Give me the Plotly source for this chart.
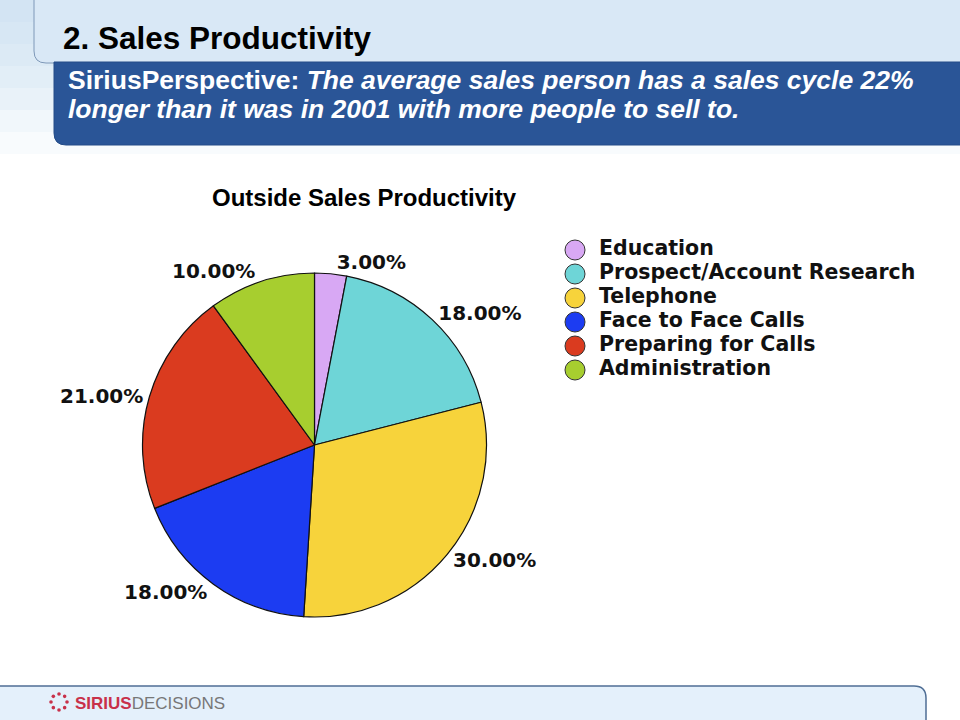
import math
import plotly.graph_objects as go

# ---- data ----
categories = ["Education", "Prospect/Account Research", "Telephone",
              "Face to Face Calls", "Preparing for Calls", "Administration"]
shares = [3, 18, 30, 18, 21, 10]
colors = ["#D8A8F4", "#6ED5D7", "#F7D33B", "#1C3CF2", "#DA3B1F", "#A7CE2F"]

header_title = "2. Sales Productivity"
header_sub_bold = "SiriusPerspective: "
header_sub_line1 = "The average sales person has a sales cycle 22%"
header_sub_line2 = "longer than it was in 2001 with more people to sell to."
chart_title = "Outside Sales Productivity"

W, H = 960, 720


def px(x):
    return x / W


def py(y):
    return 1 - y / H


def rounded_path(x0, y0, x1, y1, r, corners):
    rx, ry = r / W, r / H
    X0, X1 = px(x0), px(x1)
    Ytop, Ybot = py(y0), py(y1)
    p = []
    if "tl" in corners:
        p.append(f"M{X0},{Ytop - ry} Q{X0},{Ytop} {X0 + rx},{Ytop}")
    else:
        p.append(f"M{X0},{Ytop}")
    if "tr" in corners:
        p.append(f"L{X1 - rx},{Ytop} Q{X1},{Ytop} {X1},{Ytop - ry}")
    else:
        p.append(f"L{X1},{Ytop}")
    if "br" in corners:
        p.append(f"L{X1},{Ybot + ry} Q{X1},{Ybot} {X1 - rx},{Ybot}")
    else:
        p.append(f"L{X1},{Ybot}")
    if "bl" in corners:
        p.append(f"L{X0 + rx},{Ybot} Q{X0},{Ybot} {X0},{Ybot + ry}")
    else:
        p.append(f"L{X0},{Ybot}")
    p.append("Z")
    return " ".join(p)


fig = go.Figure()

fig.add_trace(go.Pie(
    labels=categories,
    values=shares,
    marker=dict(colors=colors, line=dict(color="#111111", width=1.2)),
    sort=False,
    direction="clockwise",
    rotation=0,
    texttemplate="%{percent:.2%}",
    textposition="outside",
    textfont=dict(family="DejaVu Sans", size=20, color="#111111", weight="bold"),
    showlegend=False,
    hoverinfo="label+percent",
    domain=dict(x=[px(142), px(487)], y=[py(617), py(273)]),
))

# legend drawn as a scatter on its own hidden axes (circle swatches + labels)
fig.add_trace(go.Scatter(
    x=[0] * len(categories), y=categories, mode="markers",
    marker=dict(symbol="circle", size=20, color=colors,
                line=dict(color="#333333", width=1)),
    hoverinfo="skip", showlegend=False,
))
fig.add_trace(go.Scatter(
    x=[0.06] * len(categories), y=categories, mode="text",
    text=categories, textposition="middle right",
    textfont=dict(family="DejaVu Sans", size=20.5, color="#111111", weight="bold"),
    hoverinfo="skip", showlegend=False,
))

shapes = []
band_cols = ["#D3E4F3", "#D7E7F4", "#DCEAF5", "#E2EEF7", "#E9F2F9", "#F1F7FB", "#F8FBFD"]
for i, c in enumerate(band_cols):
    shapes.append(dict(type="rect", xref="paper", yref="paper",
                       x0=0, x1=1, y0=py(22 * (i + 1)), y1=py(22 * i),
                       fillcolor=c, line=dict(width=0), layer="below"))
shapes.append(dict(type="path", xref="paper", yref="paper",
                   path=rounded_path(34, -5, 965, 63, 12, {"bl"}),
                   fillcolor="#D9E8F6", line=dict(color="#7E98B8", width=1), layer="below"))
shapes.append(dict(type="path", xref="paper", yref="paper",
                   path=rounded_path(54, 62, 965, 145, 12, {"bl"}),
                   fillcolor="#2A5597", line=dict(color="#244C88", width=1), layer="below"))
shapes.append(dict(type="path", xref="paper", yref="paper",
                   path=rounded_path(-5, 686, 926, 730, 12, {"tr"}),
                   fillcolor="#E4F0FB", line=dict(color="#4F6E95", width=1.5), layer="below"))
for k in range(8):
    a = k * math.pi / 4
    cx, cy = 59 + 8 * math.cos(a), 702 + 8 * math.sin(a)
    shapes.append(dict(type="circle", xref="paper", yref="paper",
                       x0=px(cx - 1.8), x1=px(cx + 1.8), y0=py(cy + 1.8), y1=py(cy - 1.8),
                       fillcolor="#C8314A", line=dict(width=0)))

annotations = [
    dict(text=header_title, x=px(61), y=py(38), xref="paper", yref="paper",
         xanchor="left", yanchor="middle", showarrow=False,
         font=dict(family="Liberation Sans", size=31.5, color="#000000", weight="bold")),
    dict(text=f"<b>{header_sub_bold}<i>{header_sub_line1}</i></b>",
         x=px(66), y=py(80), xref="paper", yref="paper",
         xanchor="left", yanchor="middle", showarrow=False,
         font=dict(family="Liberation Sans", size=26.5, color="#FFFFFF")),
    dict(text=f"<b><i>{header_sub_line2}</i></b>",
         x=px(66), y=py(109), xref="paper", yref="paper",
         xanchor="left", yanchor="middle", showarrow=False,
         font=dict(family="Liberation Sans", size=26.5, color="#FFFFFF")),
    dict(text=chart_title, x=px(364), y=py(197), xref="paper", yref="paper",
         xanchor="center", yanchor="middle", showarrow=False,
         font=dict(family="Liberation Sans", size=24, color="#000000", weight="bold")),
    dict(text="<b>SIRIUS</b><span style='color:#777777'>DECISIONS</span>",
         x=px(73), y=py(703), xref="paper", yref="paper",
         xanchor="left", yanchor="middle", showarrow=False,
         font=dict(family="Liberation Sans", size=17, color="#C8314A")),
]

fig.update_layout(
    width=W, height=H,
    margin=dict(l=0, r=0, t=0, b=0),
    paper_bgcolor="#FFFFFF",
    plot_bgcolor="rgba(0,0,0,0)",
    xaxis=dict(visible=False, domain=[px(555), px(955)], range=[-0.05, 0.95], fixedrange=True),
    yaxis=dict(visible=False, domain=[py(382), py(238)], range=[5.5, -0.5],
               type="category", fixedrange=True),
    shapes=shapes,
    annotations=annotations,
    showlegend=False,
)

fig.write_html("out.html", config={"displayModeBar": False},
               post_script="document.body.style.margin='0';document.body.style.overflow='hidden';")
